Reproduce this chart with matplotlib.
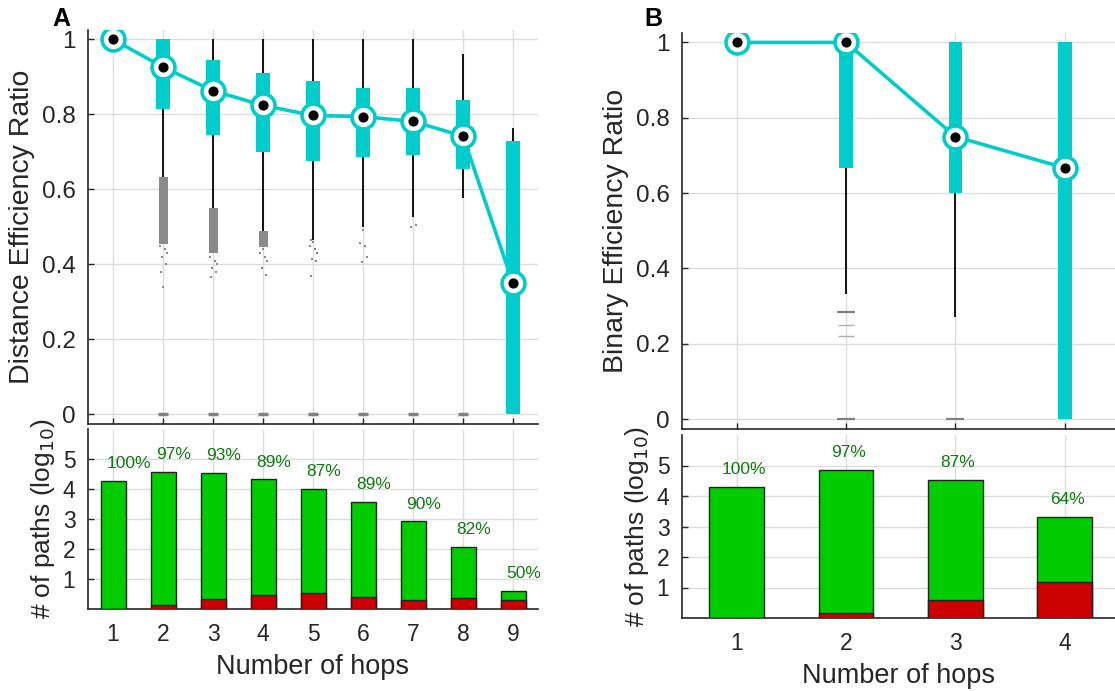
import matplotlib.pyplot as plt
import numpy as np

plt.rcParams['font.family'] = ['Liberation Sans', 'DejaVu Sans']
plt.rcParams['text.color'] = '#262626'
plt.rcParams['axes.labelcolor'] = '#262626'
plt.rcParams['xtick.color'] = '#262626'
plt.rcParams['ytick.color'] = '#262626'

# ---- panel A: distance efficiency ratio per number of hops
hops_a = np.arange(1, 10)
med_a = np.array([1.0, 0.926, 0.863, 0.824, 0.797, 0.794, 0.781, 0.742, 0.349])
q1_a = np.array([1.0, 0.815, 0.746, 0.699, 0.676, 0.686, 0.691, 0.655, 0.0])
q3_a = np.array([1.0, 1.0, 0.944, 0.911, 0.888, 0.871, 0.869, 0.839, 0.729])
wlo_a = np.array([1.0, 0.633, 0.549, 0.489, 0.464, 0.50, 0.527, 0.578, 0.0])
whi_a = np.array([1.0, 1.0, 1.0, 1.0, 1.0, 1.0, 1.0, 0.962, 0.764])

# dense outlier clouds (range) and single outliers
dense_hops_a = np.array([2, 3, 4])
dense_lo_a = np.array([0.455, 0.43, 0.447])
dense_hi_a = np.array([0.633, 0.549, 0.489])
sparse_hops_a = np.array([2]*7 + [3]*6 + [4]*6 + [5]*8 + [6]*5 + [7]*2)
sparse_vals_a = np.array([0.45, 0.44, 0.43, 0.42, 0.40, 0.38, 0.34,
                          0.42, 0.41, 0.40, 0.39, 0.38, 0.367,
                          0.44, 0.43, 0.42, 0.41, 0.39, 0.372,
                          0.464, 0.46, 0.45, 0.44, 0.43, 0.415, 0.41, 0.369,
                          0.492, 0.456, 0.45, 0.42, 0.407,
                          0.506, 0.50])
zero_hops_a = np.array([2, 3, 4, 5, 6, 7, 8])

# bar counts (log10) : all paths and failing paths
total_a = np.array([4.28, 4.57, 4.54, 4.32, 4.0, 3.58, 2.92, 2.08, 0.6])
red_a = np.array([0.0, 0.12, 0.32, 0.48, 0.52, 0.39, 0.29, 0.38, 0.3])
pct_a = ['100%', '97%', '93%', '89%', '87%', '89%', '90%', '82%', '50%']

# ---- panel B: binary efficiency ratio
hops_b = np.arange(1, 5)
med_b = np.array([1.0, 1.0, 0.75, 0.667])
q1_b = np.array([1.0, 0.666, 0.6, 0.0])
q3_b = np.array([1.0, 1.0, 1.0, 1.0])
wlo_b = np.array([1.0, 0.333, 0.272, 0.0])
whi_b = np.array([1.0, 1.0, 1.0, 1.0])
dash_hops_b = np.array([2, 2, 3])
dash_vals_b = np.array([0.0, 0.285, 0.0])
dot_hops_b = np.array([2, 2])
dot_vals_b = np.array([0.25, 0.222])

total_b = np.array([4.29, 4.86, 4.53, 3.30])
red_b = np.array([0.0, 0.17, 0.58, 1.19])
pct_b = ['100%', '97%', '87%', '64%']

cyan = '#00cccc'
green = '#00cc00'
red = '#cc0000'
dkgreen = '#0f7a0f'
grid_c = '#dcdcdc'
ink = '#262626'

W, H = 1115, 691
fig = plt.figure(figsize=(W / 100, H / 100), dpi=100)


def px(x0, y0, x1, y1):
    return [x0 / W, 1 - y1 / H, (x1 - x0) / W, (y1 - y0) / H]


def style(ax, tick_size):
    for s in ['top', 'right']:
        ax.spines[s].set_visible(False)
    for s in ['left', 'bottom']:
        ax.spines[s].set_color(ink)
        ax.spines[s].set_linewidth(1.2)
    ax.grid(True, color=grid_c, lw=1.0)
    ax.set_axisbelow(True)
    ax.tick_params(direction='in', length=4.5, width=1.0,
                   labelsize=tick_size, pad=7)


def top_panel(ax, hops, med, q1, q3, wlo, whi, box_w, xlim):
    ax.vlines(hops, wlo, q1, color='k', lw=1.3, zorder=2)
    ax.vlines(hops, q3, whi, color='k', lw=1.3, zorder=2)
    ax.bar(hops, q3 - q1, bottom=q1, width=box_w, color=cyan, zorder=3)
    ax.plot(hops, med, color=cyan, lw=2.6, marker='o', ms=16.5,
            mfc='white', mec=cyan, mew=2.6, zorder=5)
    ax.plot(hops, med, 'o', color='k', ms=6.3, zorder=6)
    ax.set_xlim(*xlim)
    ax.set_ylim(-0.026, 1.025)
    ax.set_xticks(hops)
    ax.set_xticklabels([])
    ax.set_yticks([0, 0.2, 0.4, 0.6, 0.8, 1])
    ax.set_yticklabels(['0', '0.2', '0.4', '0.6', '0.8', '1'])
    style(ax, 17.5)
    ax.tick_params(axis='y', pad=9)


def bottom_panel(ax, hops, total, redv, pct, xlim):
    ax.bar(hops, total, width=0.5, color=green, edgecolor='#222222', lw=1.0, zorder=3)
    ax.bar(hops, redv, width=0.5, color=red, edgecolor='#222222', lw=1.0, zorder=4)
    for h, t, p in zip(hops, total, pct):
        ax.text(h - 0.135, t + 0.57, p, color=dkgreen, fontsize=12.5,
                ha='left', va='center', zorder=5)
    ax.set_xlim(*xlim)
    ax.set_ylim(0, 6)
    ax.set_xticks(hops)
    ax.set_yticks([1, 2, 3, 4, 5])
    style(ax, 16.5)
    ax.tick_params(axis='x', pad=10)
    ax.tick_params(axis='y', pad=9)
    ax.set_ylabel('# of paths (log$_{10}$)', fontsize=19)
    ax.set_xlabel('Number of hops', fontsize=19.5, labelpad=6)


# ---------------- Panel A
axA = fig.add_axes(px(88, 30, 538, 424))
top_panel(axA, hops_a, med_a, q1_a, q3_a, wlo_a, whi_a, 0.27, (0.5, 9.5))
axA.bar(dense_hops_a, dense_hi_a - dense_lo_a, bottom=dense_lo_a, width=0.18,
        color='#8a8a8a', zorder=2)
jit = np.resize([-0.07, 0.03, 0.08, -0.02, 0.05, -0.05, 0.0], len(sparse_hops_a))
axA.plot(sparse_hops_a + jit, sparse_vals_a, 's', color='#8a8a8a', ms=1.6,
         mew=0, zorder=2)
axA.plot(zero_hops_a, np.zeros(len(zero_hops_a)), '_', color='#808080',
         ms=6.5, mew=2.5, zorder=2)
axA.set_ylabel('Distance Efficiency Ratio', fontsize=20.5, labelpad=5)

axA2 = fig.add_axes(px(88, 429, 538, 609))
bottom_panel(axA2, hops_a, total_a, red_a, pct_a, (0.5, 9.5))

# ---------------- Panel B
axB = fig.add_axes(px(682, 33, 1115, 429))
top_panel(axB, hops_b, med_b, q1_b, q3_b, wlo_b, whi_b, 0.125, (0.5, 4.46))
axB.plot(dash_hops_b, dash_vals_b, '_', color='#808080', ms=13, mew=1.6, zorder=2)
axB.plot(dot_hops_b, dot_vals_b, '_', color='#b0b0b0', ms=12, mew=1.0,
         ls='none', zorder=2)
axB.set_ylabel('Binary Efficiency Ratio', fontsize=20.5, labelpad=5)

axB2 = fig.add_axes(px(682, 435, 1115, 618))
bottom_panel(axB2, hops_b, total_b, red_b, pct_b, (0.5, 4.46))

fig.text(52 / W, 1 - 19 / H, 'A', fontsize=18, fontweight='bold',
         ha='left', va='center', color='k')
fig.text(644 / W, 1 - 19 / H, 'B', fontsize=18, fontweight='bold',
         ha='left', va='center', color='k')

fig.savefig('out.png', dpi=100)
